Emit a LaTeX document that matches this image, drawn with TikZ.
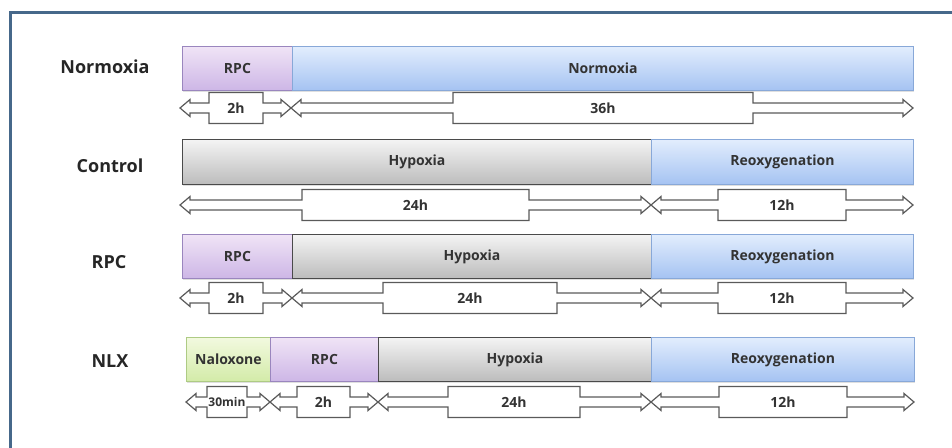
\documentclass[tikz,border=0pt]{standalone}
\usepackage{fontspec}
\setmainfont{Open Sans}
\usetikzlibrary{shadows}
\definecolor{frameblue}{HTML}{46688A}
\definecolor{pTop}{HTML}{F0E4F6}
\definecolor{pBot}{HTML}{CDB6E6}
\definecolor{pLine}{HTML}{9A86BE}
\definecolor{bTop}{HTML}{E2EDFD}
\definecolor{bBot}{HTML}{A5C3F2}
\definecolor{bLine}{HTML}{88A8D8}
\definecolor{gTop}{HTML}{F4F4F4}
\definecolor{gBot}{HTML}{BCBCBC}
\definecolor{gLine}{HTML}{4A4A4A}
\definecolor{nTop}{HTML}{F2F9DF}
\definecolor{nBot}{HTML}{D3EBA8}
\definecolor{nLine}{HTML}{AECB84}
\definecolor{arrLine}{HTML}{5A5A5A}
\definecolor{txt}{HTML}{333333}
\tikzset{
  bar/.style={anchor=north west, inner sep=0pt, minimum height=44pt, text=txt,
     font=\fontsize{14}{16}\selectfont\bfseries, line width=0.9pt,
     drop shadow={shadow xshift=0.8pt, shadow yshift=-1.2pt, opacity=0.25}},
  rpcbar/.style={bar, top color=pTop, bottom color=pBot, draw=pLine},
  bluebar/.style={bar, top color=bTop, bottom color=bBot, draw=bLine},
  graybar/.style={bar, top color=gTop, bottom color=gBot, draw=gLine},
  nlxbar/.style={bar, top color=nTop, bottom color=nBot, draw=nLine},
  rowlabel/.style={font=\fontsize{18}{20}\selectfont\bfseries, text=black!85},
  arr/.style={draw=arrLine, fill=white, line width=1.2pt, line join=miter},
  arrlabel/.style={font=\fontsize{14}{16}\selectfont\bfseries, text=txt, inner sep=0pt},
}
% #1 name, #2 left tip x, #3 box left, #4 box right, #5 right tip x, #6 centre y, #7 label
\newcommand\timearrow[7]{%
  \draw[arr] (#2,#6) -- ({#2+10},{#6-8.5}) -- ({#2+10},{#6-5}) -- (#3,{#6-5})
    -- (#3,{#6-15.5}) -- (#4,{#6-15.5}) -- (#4,{#6-5}) -- ({#5-10},{#6-5})
    -- ({#5-10},{#6-8.5}) -- (#5,#6) -- ({#5-10},{#6+8.5}) -- ({#5-10},{#6+5})
    -- (#4,{#6+5}) -- (#4,{#6+15.5}) -- (#3,{#6+15.5}) -- (#3,{#6+5})
    -- ({#2+10},{#6+5}) -- ({#2+10},{#6+8.5}) -- cycle;
  \node[arrlabel] (#1) at ({(#3+#4)/2},#6) {#7};%
}
\begin{document}
\begin{tikzpicture}[x=1pt, y=-1pt]
\useasboundingbox (0,0) rectangle (952,447);
% frame
\draw[frameblue, line width=2.6pt] (10.5,460) -- (10.5,12.5) -- (960,12.5);

% row labels
\node[rowlabel] (lnorm) at (105,67) {Normoxia};
\node[rowlabel] (lctrl) at (110,166) {Control};
\node[rowlabel] (lrpc)  at (109,262) {RPC};
\node[rowlabel] (lnlx)  at (110,361) {NLX};

% row 1
\node[rpcbar, minimum width=110pt] (r1a) at (182,46) {RPC};
\node[bluebar, minimum width=621pt] (r1b) at (292,46) {Normoxia};
% row 2
\node[graybar, minimum width=469pt, minimum height=45pt] (r2a) at (182,139) {Hypoxia};
\node[bluebar, minimum width=262pt, minimum height=45pt] (r2b) at (651,139) {Reoxygenation};
% row 3
\node[rpcbar, minimum width=110pt] (r3a) at (182,234) {RPC};
\node[graybar, minimum width=359pt] (r3b) at (292,234) {Hypoxia};
\node[bluebar, minimum width=262pt] (r3c) at (651,234) {Reoxygenation};
% row 4
\node[nlxbar, minimum width=84pt] (r4a) at (186,337) {Naloxone};
\node[rpcbar, minimum width=108pt] (r4b) at (270,337) {RPC};
\node[graybar, minimum width=273pt] (r4c) at (378,337) {Hypoxia};
\node[bluebar, minimum width=263pt] (r4d) at (651,337) {Reoxygenation};

% time arrows
\timearrow{t1a}{180}{209}{263}{291}{108}{2h}
\timearrow{t1b}{291}{453}{753}{913}{108}{36h}

\timearrow{t2a}{180}{302}{529}{651}{205}{24h}
\timearrow{t2b}{651}{718}{846}{913}{205}{12h}

\timearrow{t3a}{180}{209}{263}{292}{298}{2h}
\timearrow{t3b}{292}{383}{557}{651}{298}{24h}
\timearrow{t3c}{651}{718}{846}{913}{298}{12h}

\timearrow{t4a}{186}{207}{247}{270}{402}{\fontsize{12}{14}\selectfont 30min}
\timearrow{t4b}{270}{297}{350}{378}{402}{2h}
\timearrow{t4c}{378}{448}{580}{651}{402}{24h}
\timearrow{t4d}{651}{719}{847}{914}{402}{12h}
\end{tikzpicture}
\end{document}
